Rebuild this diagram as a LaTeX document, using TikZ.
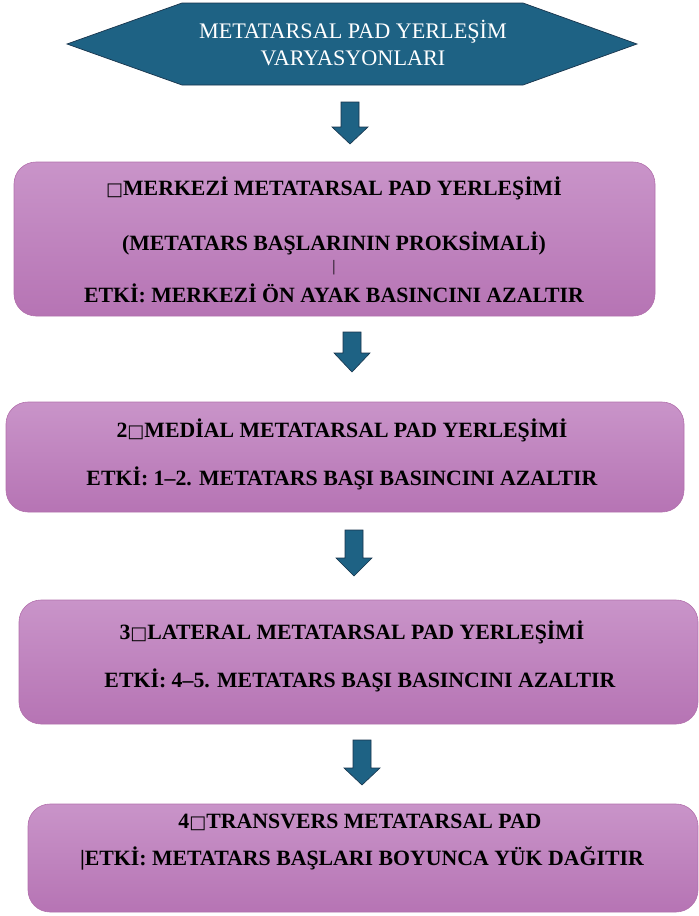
\documentclass[tikz,border=0pt]{standalone}
\usepackage{fontspec}
\setmainfont{Liberation Serif}
\newfontfamily\symfont{DejaVu Sans}
\definecolor{hexblue}{RGB}{30,98,132}
\definecolor{hexline}{RGB}{24,52,76}
\definecolor{padtop}{RGB}{201,148,201}
\definecolor{padbottom}{RGB}{182,116,180}
\definecolor{padline}{RGB}{178,112,172}
\tikzset{
  padbox/.style={rounded corners=22pt, draw=padline, line width=0.6pt,
    top color=padtop, bottom color=padbottom},
  padtext/.style={inner sep=0pt, font=\bfseries\fontsize{21.8}{24}\selectfont},
  titletext/.style={inner sep=0pt, text=white, font=\fontsize{22.2}{25}\selectfont},
  padarrow/.style={fill=hexblue, draw=hexline, line width=0.6pt, line join=miter}
}
\newcommand{\padarrow}[4]{%
  \draw[padarrow] (#1-9,#2) -- (#1+9,#2) -- (#1+9,#3) -- (#1+18,#3) -- (#1,#4)
    -- (#1-18,#3) -- (#1-9,#3) -- cycle;}
\newcommand{\sq}{{\symfont\fontsize{18}{18}\selectfont □}}
\begin{document}
\begin{tikzpicture}[x=1pt,y=-1pt]
\useasboundingbox (0,0) rectangle (699,916);

% Drawing title hexagon
\draw [fill=hexblue, draw=hexline, line width=0.7pt]
  (67,44) -- (182,3) -- (523,3) -- (637,44) -- (523,85) -- (182,85) -- cycle;
\node [titletext] (title1) at (353,32) {METATARSAL PAD YERLEŞİM};
\node [titletext] (title2) at (353,58) {VARYASYONLARI};

% Drawing arrows
\padarrow{350}{102}{127}{144}
\padarrow{352}{332}{353}{372}
\padarrow{354}{530}{558}{576}
\padarrow{362}{740}{768}{785}

% Drawing box 1
\path [padbox] (14,162) rectangle (655,316);
\node [padtext] (t11) at (334,188) {\sq MERKEZİ METATARSAL PAD YERLEŞİMİ};
\node [padtext] (t12) at (334,243) {(METATARS BAŞLARININ PROKSİMALİ)};
\node [inner sep=0pt, font=\fontsize{16}{16}\selectfont] (t13) at (334,268) {|};
\node [padtext] (t14) at (334,293) {ETKİ: MERKEZİ ÖN AYAK BASINCINI AZALTIR};

% Drawing box 2
\path [padbox] (6,402) rectangle (684,512);
\node [padtext] (t21) at (342,430) {2\sq MEDİAL METATARSAL PAD YERLEŞİMİ};
\node [padtext] (t22) at (342,478) {ETKİ: 1–2. METATARS BAŞI BASINCINI AZALTIR};

% Drawing box 3
\path [padbox] (19,600) rectangle (698,724);
\node [padtext] (t31) at (352,632) {3\sq LATERAL METATARSAL PAD YERLEŞİMİ};
\node [padtext] (t32) at (360,680) {ETKİ: 4–5. METATARS BAŞI BASINCINI AZALTIR};

% Drawing box 4
\path [padbox] (28,804) rectangle (698,912);
\node [padtext] (t41) at (360,822) {4\sq TRANSVERS METATARSAL PAD};
\node [padtext] (t42) at (362,858) {|ETKİ: METATARS BAŞLARI BOYUNCA YÜK DAĞITIR};
\end{tikzpicture}
\end{document}
